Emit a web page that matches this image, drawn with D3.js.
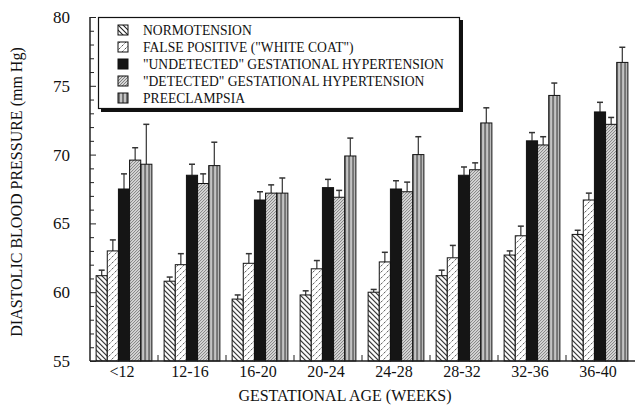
<!DOCTYPE html>
<html>
<head>
<meta charset="utf-8">
<script src="https://cdn.jsdelivr.net/npm/d3@7"></script>
<style>
  body { margin: 0; background: #fff; }
  text { font-family: "Liberation Serif", "DejaVu Serif", serif; fill: #111; }
</style>
</head>
<body>
<script>
//----------- data --------------------------------------
const categories = ["<12", "12-16", "16-20", "20-24", "24-28", "28-32", "32-36", "36-40"];
const seriesNames = ["NORMOTENSION", "FALSE POSITIVE (\"WHITE COAT\")", "\"UNDETECTED\" GESTATIONAL HYPERTENSION", "\"DETECTED\" GESTATIONAL HYPERTENSION", "PREECLAMPSIA"];

// means
const normotension = [61.2, 60.8, 59.5, 59.8, 60.0, 61.2, 62.7, 64.2];
const falsePositive = [63.0, 62.0, 62.1, 61.7, 62.2, 62.5, 64.1, 66.7];
const undetected = [67.5, 68.5, 66.7, 67.6, 67.5, 68.5, 71.0, 73.1];
const detected = [69.6, 67.9, 67.2, 66.9, 67.3, 68.9, 70.7, 72.2];
const preeclampsia = [69.3, 69.2, 67.2, 69.9, 70.0, 72.3, 74.3, 76.7];

// top of each error bar
const normotensionErr = [61.6, 61.1, 59.8, 60.1, 60.2, 61.6, 63.0, 64.5];
const falsePositiveErr = [63.8, 62.8, 62.8, 62.3, 62.9, 63.4, 64.8, 67.2];
const undetectedErr = [68.6, 69.3, 67.3, 68.2, 68.1, 69.1, 71.6, 73.8];
const detectedErr = [70.5, 68.6, 67.8, 67.4, 68.0, 69.4, 71.3, 72.7];
const preeclampsiaErr = [72.2, 70.9, 68.3, 71.2, 71.3, 73.4, 75.2, 77.8];

const yTicks = [55, 60, 65, 70, 75, 80];

const means = [normotension, falsePositive, undetected, detected, preeclampsia];
const errs = [normotensionErr, falsePositiveErr, undetectedErr, detectedErr, preeclampsiaErr];
const fills = ["url(#pNormo)", "url(#pFalse)", "#151515", "url(#pDet)", "url(#pPre)"];

//----------- svg + patterns -----------------------------
const svg = d3.select("body")
  .append("svg")
  .attr("width", 635)
  .attr("height", 407);

const defs = svg.append("defs");

let p = defs.append("pattern").attr("id", "pNormo")
  .attr("patternUnits", "userSpaceOnUse").attr("width", 5).attr("height", 5);
p.append("rect").attr("width", 5).attr("height", 5).attr("fill", "#fff");
p.append("path").attr("d", "M0,0L5,5M-1,4L1,6M4,-1L6,1")
  .attr("stroke", "#222").attr("stroke-width", 1.1);

p = defs.append("pattern").attr("id", "pFalse")
  .attr("patternUnits", "userSpaceOnUse").attr("width", 6).attr("height", 6);
p.append("rect").attr("width", 6).attr("height", 6).attr("fill", "#fff");
p.append("path").attr("d", "M0.5,2.5L2.5,0.5M3.5,5.5L5.5,3.5")
  .attr("stroke", "#555").attr("stroke-width", 1);

p = defs.append("pattern").attr("id", "pDet")
  .attr("patternUnits", "userSpaceOnUse").attr("width", 3).attr("height", 3);
p.append("rect").attr("width", 3).attr("height", 3).attr("fill", "#d6d6d6");
p.append("path").attr("d", "M0,3L3,0M-1,1L1,-1M2,4L4,2")
  .attr("stroke", "#6a6a6a").attr("stroke-width", 0.8);

p = defs.append("pattern").attr("id", "pPre")
  .attr("patternUnits", "userSpaceOnUse").attr("width", 4).attr("height", 4);
p.append("rect").attr("width", 4).attr("height", 4).attr("fill", "#c4c4c4");
p.append("rect").attr("width", 2).attr("height", 4).attr("fill", "#747474");

//----------- scales -------------------------------------
const x0 = d3.scaleBand()
  .domain(categories)
  .range([90, 634])
  .paddingInner(0.18)
  .paddingOuter(0.09);

const x1 = d3.scaleBand()
  .domain(d3.range(seriesNames.length))
  .range([0, x0.bandwidth()]);

const y = d3.scaleLinear()
  .domain([55, 80])
  .range([361, 17]);

//----------- bars + error bars --------------------------
const groups = svg.append("g").selectAll("g")
  .data(categories)
  .join("g")
  .attr("transform", d => `translate(${x0(d)},0)`);

groups.each(function(cat, ci) {
  const g = d3.select(this);
  means.forEach((s, si) => {
    const cx = x1(si) + x1.bandwidth() / 2;
    g.append("line")
      .attr("x1", cx).attr("x2", cx)
      .attr("y1", y(s[ci])).attr("y2", y(errs[si][ci]))
      .attr("stroke", "#333").attr("stroke-width", 1.2);
    g.append("line")
      .attr("x1", cx - 3).attr("x2", cx + 3)
      .attr("y1", y(errs[si][ci])).attr("y2", y(errs[si][ci]))
      .attr("stroke", "#333").attr("stroke-width", 1.5);
    g.append("rect")
      .attr("x", x1(si))
      .attr("y", y(s[ci]))
      .attr("width", x1.bandwidth())
      .attr("height", y(55) - y(s[ci]))
      .attr("fill", fills[si])
      .attr("stroke", "#111")
      .attr("stroke-width", 1);
  });
});

//----------- axes ---------------------------------------
const yAxis = svg.append("g")
  .attr("transform", "translate(90,0)")
  .call(d3.axisRight(y).tickValues(d3.range(55, 81, 1)).tickSize(4).tickFormat(""));
yAxis.select(".domain").remove();
yAxis.selectAll(".tick line").filter(d => d % 5 === 0).attr("x2", 6);
yAxis.selectAll(".tick line").attr("stroke", "#222");

svg.append("line")
  .attr("x1", 90).attr("x2", 90).attr("y1", 17).attr("y2", 361)
  .attr("stroke", "#222").attr("stroke-width", 1.5);
svg.append("line")
  .attr("x1", 90).attr("x2", 635).attr("y1", 361).attr("y2", 361)
  .attr("stroke", "#222").attr("stroke-width", 1.5);

svg.append("g").selectAll("text")
  .data(yTicks)
  .join("text")
  .attr("x", 70)
  .attr("y", d => y(d))
  .attr("dy", "0.35em")
  .attr("text-anchor", "end")
  .attr("font-size", 17)
  .text(d => d);

// small ticks between the groups
svg.append("g").selectAll("line")
  .data(categories.slice(1))
  .join("line")
  .attr("x1", d => x0(d) - x0.step() * x0.paddingInner() / 2)
  .attr("x2", d => x0(d) - x0.step() * x0.paddingInner() / 2)
  .attr("y1", 361).attr("y2", 355)
  .attr("stroke", "#222");

svg.append("g").selectAll("text")
  .data(categories)
  .join("text")
  .attr("x", d => x0(d) + x0.bandwidth() / 2 - 2)
  .attr("y", 377)
  .attr("text-anchor", "middle")
  .attr("font-size", 16)
  .text(d => d);

svg.append("text")
  .attr("x", 345).attr("y", 401)
  .attr("text-anchor", "middle")
  .attr("font-size", 16)
  .text("GESTATIONAL AGE (WEEKS)");

svg.append("text")
  .attr("transform", "translate(22,192) rotate(-90)")
  .attr("text-anchor", "middle")
  .attr("font-size", 16)
  .text("DIASTOLIC BLOOD PRESSURE (mm Hg)");

//----------- legend -------------------------------------
const legend = svg.append("g");
legend.append("rect")
  .attr("x", 101).attr("y", 20).attr("width", 362).attr("height", 92)
  .attr("fill", "#111");
legend.append("rect")
  .attr("x", 98.5).attr("y", 17.5).attr("width", 361).attr("height", 91)
  .attr("fill", "#fff").attr("stroke", "#111").attr("stroke-width", 1.2);

const items = legend.selectAll("g.item")
  .data(seriesNames)
  .join("g")
  .attr("class", "item")
  .attr("transform", (d, i) => `translate(118,${30 + i * 17})`);
items.append("rect")
  .attr("x", 0).attr("y", -5).attr("width", 10).attr("height", 10)
  .attr("fill", (d, i) => fills[i])
  .attr("stroke", "#111");
items.append("text")
  .attr("x", 25).attr("y", 0)
  .attr("dy", "0.35em")
  .attr("font-size", 13.6)
  .text(d => d);
</script>
</body>
</html>
